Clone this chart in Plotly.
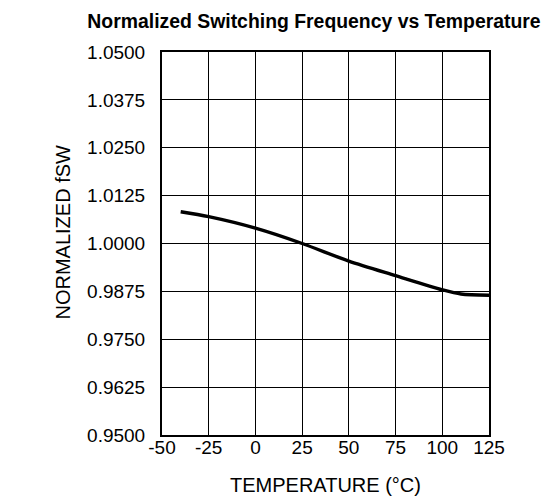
import plotly.graph_objects as go

temps = [-40, -25, 0, 25, 50, 75, 100, 110, 125]
fsw = [1.0083, 1.0070, 1.0040, 1.0000, 0.9954, 0.9916, 0.9879, 0.9868, 0.9865]

x_ticks = [-50, -25, 0, 25, 50, 75, 100, 125]
y_ticks = [0.95, 0.9625, 0.975, 0.9875, 1.0, 1.0125, 1.025, 1.0375, 1.05]
y_tick_labels = ["0.9500", "0.9625", "0.9750", "0.9875", "1.0000", "1.0125", "1.0250", "1.0375", "1.0500"]

FAMILY = "Liberation Sans, Arial, Helvetica, sans-serif"
W, H = 548, 500

fig = go.Figure()
fig.add_trace(go.Scatter(x=temps, y=fsw, mode="lines",
                         line=dict(color="black", width=3.4, shape="spline", smoothing=0.8),
                         showlegend=False, hoverinfo="skip"))

tick_font = dict(family=FAMILY, size=19, color="black")
title_font = dict(family=FAMILY, size=20, color="black")

L, R, T, B = 162, 59, 52, 65
PW, PH = W - L - R, H - T - B

fig.update_layout(
    width=W, height=H,
    margin=dict(l=L, r=R, t=T, b=B, pad=0),
    paper_bgcolor="white", plot_bgcolor="white",
    font=tick_font,
    title=dict(text="<b>Normalized Switching Frequency vs Temperature</b>",
               x=314 / W, xanchor="center", xref="container",
               y=1 - 21 / H, yanchor="middle", yref="container",
               font=dict(family=FAMILY, size=19.4, color="black")),
    xaxis=dict(range=[-50, 125], tickvals=x_ticks, ticktext=[str(v) for v in x_ticks],
               showgrid=True, gridcolor="black", gridwidth=1,
               showline=True, linecolor="black", linewidth=2, mirror=True,
               zeroline=False, ticks="", ticklabelstandoff=-6, tickfont=tick_font,
               automargin=False,
               title=dict(text="TEMPERATURE (°C)", standoff=21, font=title_font)),
    yaxis=dict(range=[0.95, 1.05], tickvals=y_ticks, ticktext=y_tick_labels,
               showgrid=True, gridcolor="black", gridwidth=1,
               showline=True, linecolor="black", linewidth=2, mirror=True,
               zeroline=False, ticks="", ticklabelstandoff=11, tickfont=tick_font,
               automargin=False),
    annotations=[dict(text="NORMALIZED fSW", textangle=-90, font=title_font,
                      xref="paper", yref="paper", x=-(L - 62) / PW, y=1 - (232.5 - T) / PH,
                      xanchor="center", yanchor="middle", showarrow=False)],
)

fig.write_html("out.html", config={"displayModeBar": False},
               post_script="document.body.style.margin='0';document.body.style.overflow='hidden';")
